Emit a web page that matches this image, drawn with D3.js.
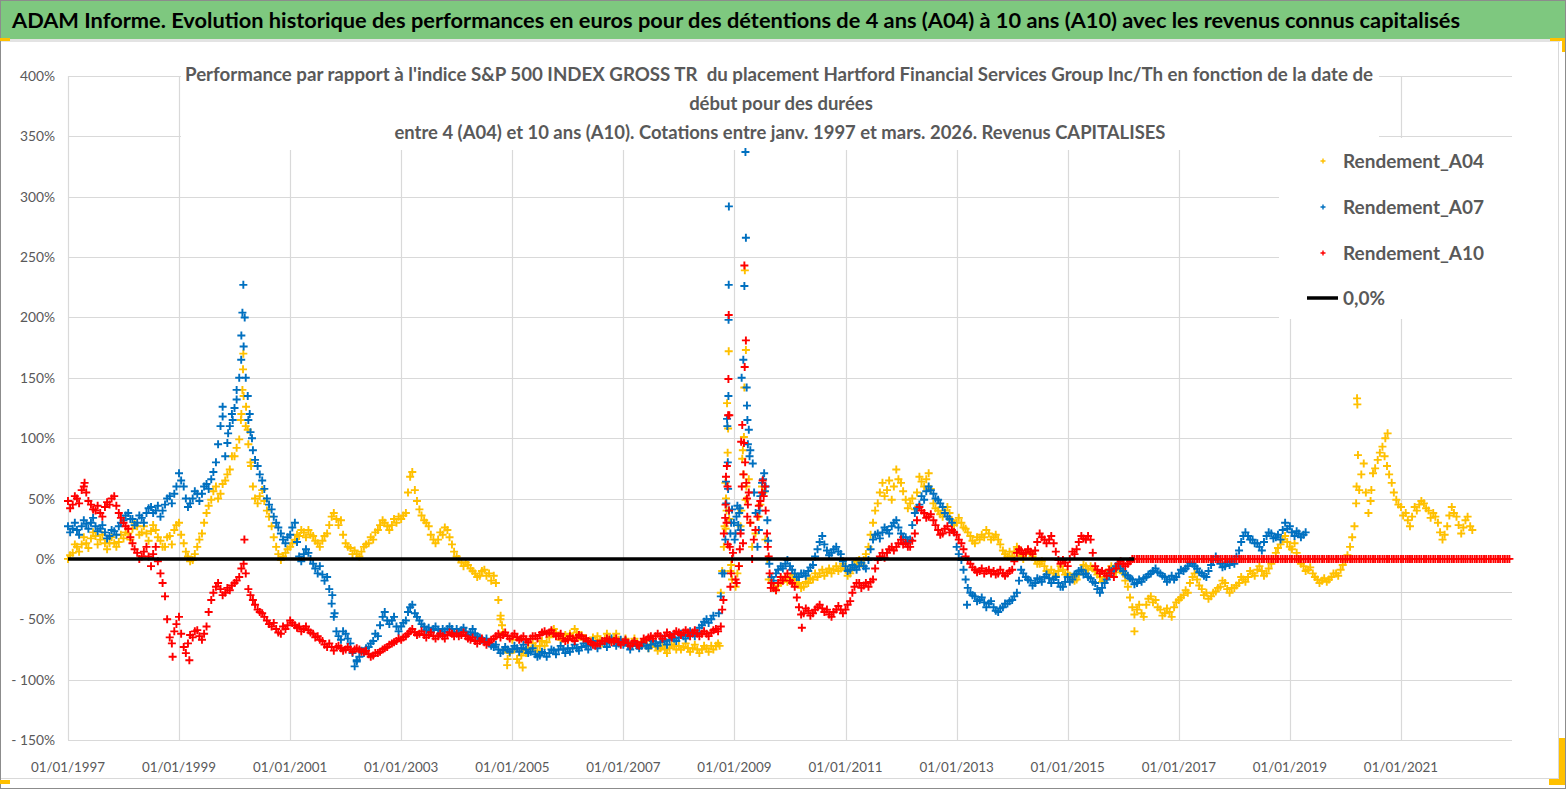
<!DOCTYPE html>
<html><head><meta charset="utf-8">
<script src="https://cdn.jsdelivr.net/npm/d3@7"></script>
<style>
html,body{margin:0;padding:0;background:#fff;}
svg{display:block;font-family:Lato,"Noto Sans",sans-serif;}
text{white-space:pre;}
</style></head><body>
<svg id="chart" width="1567" height="790"></svg>
<script>
// ---------------- DATA ----------------
const mainTitle = "ADAM Informe. Evolution historique des performances en euros pour des détentions de 4 ans (A04) à 10 ans (A10) avec les revenus connus capitalisés";
const chartTitle = [
  "Performance par rapport à l'indice S&P 500 INDEX GROSS TR  du placement Hartford Financial Services Group Inc/Th en fonction de la date de",
  "début pour des durées",
  "entre 4 (A04) et 10 ans (A10). Cotations entre janv. 1997 et mars. 2026. Revenus CAPITALISES"
];
const seriesNames = ["Rendement_A04", "Rendement_A07", "Rendement_A10", "0,0%"];
const yTicks = [-150, -100, -50, 0, 50, 100, 150, 200, 250, 300, 350, 400];
const xTickYears = [1997, 1999, 2001, 2003, 2005, 2007, 2009, 2011, 2013, 2015, 2017, 2019, 2021];
const xDomain = ["1997-01-01", "2023-01-01"];
const refLineValue = -27.3;
const zeroLineDates = ["1997-01-01", "2016-03-14"];
const zeroLineValues = [0, 0];

// values on the 1st of each month, starting January 1997
const a04Values = [
  0,5,10,12,13,17,19,16,13,13,13,14,
  17,21,25,27,22,21,23,24,15,10,19,24,
  30,13,2,-1,10,21,38,49,60,54,65,74,
  85,99,135,95,60,46,57,40,27,10,-1,5,
  10,16,19,22,24,19,13,15,21,35,33,32,
  13,9,7,2,10,13,16,24,32,27,28,30,
  33,38,68,57,41,32,27,16,16,20,24,12,
  2,-3,-3,-8,-12,-14,-9,-12,-14,-34,-61,-83,
  -67,-83,-80,-78,-75,-72,-72,-72,-65,-58,-64,-66,
  -67,-64,-61,-63,-66,-69,-68,-67,-66,-65,-65,-67,
  -69,-69,-69,-69,-70,-71,-72,-73,-74,-75,-74,-72,
  -72,-73,-74,-74,-75,-75,-74,-72,-72,null,null,null,
  null,null,null,null,null,null,null,null,-20,-26,-20,-15,
  -16,-17,-20,-23,-20,-17,-15,-9,-11,-12,-6,-8,
  -9,-12,-5,-1,-1,10,30,46,63,57,49,74,
  63,49,46,41,68,60,71,46,40,35,43,32,
  30,30,25,19,13,16,18,21,18,16,7,2,
  2,10,2,4,5,-1,-4,-6,-12,-12,-10,-9,
  -12,-15,-17,-10,-6,-6,-10,-15,-17,-9,-8,-6,
  -12,-23,-40,-42,-45,-38,-31,-34,-42,-45,-44,-40,
  -34,-30,-28,-15,-17,-25,-28,-31,-27,-23,-20,-28,
  -24,-20,-17,-15,-12,-9,-10,-12,-4,5,12,19,
  10,13,-1,-6,-9,-12,-17,-18,-19,-15,-12,-9,
  -1,10,27,57,79,38,71,82,93,77,63,49,
  43,38,27,43,45,46,40,38,30,16,27,43,
  35,21,32,27
];
// values on the 15th of each month, starting January 1997
const a04Mid = [
  3,12,6,18,9,22,12,20,8,18,10,20,
  22,16,30,20,27,15,28,18,10,18,12,28,
  20,6,-2,4,16,30,44,56,50,62,70,85,
  92,120,110,80,50,52,48,35,18,4,2,8,
  13,20,24,18,20,15,10,19,28,38,28,20,
  10,4,4,6,12,18,22,28,30,24,33,35,
  36,55,72,48,36,30,20,13,22,26,18,6,
  0,-6,-5,-10,-15,-10,-14,-18,-20,-50,-75,-78,
  -75,-86,-76,-74,-70,-76,-68,-69,-62,-61,-67,-63,
  -62,-58,-64,-67,-70,-65,-64,-70,-62,-68,-62,-70,
  -66,-72,-66,-72,-68,-74,-70,-76,-72,-78,-71,-75,
  -75,-70,-77,-71,-78,-72,-77,-75,-70,null,null,null,
  null,null,null,null,null,null,null,null,-24,-22,-17,-19,
  -13,-21,-24,-19,-16,-12,-12,-14,-8,-9,-10,-4,
  -14,-8,-2,-4,4,20,40,55,52,65,60,66,
  56,42,50,55,64,66,58,42,37,40,38,28,
  34,26,22,15,18,20,24,16,20,12,4,6,
  6,5,0,7,2,-4,-2,-10,-9,-14,-6,-13,
  -14,-18,-13,-5,-9,-8,-13,-19,-12,-6,-11,-9,
  -18,-32,-46,-38,-48,-33,-36,-40,-47,-41,-48,-36,
  -32,-26,-20,-12,-22,-30,-33,-28,-24,-18,-25,-24,
  -22,-15,-19,-10,-14,-6,-14,-8,0,9,16,14,
  8,5,-4,-10,-7,-15,-20,-16,-17,-12,-14,-5,
  3,18,60,70,55,48,75,88,85,70,55,45,
  36,32,35,40,48,42,34,35,22,20,36,38,
  28,26,35,24
];
const a04Extra = [
  ["2000-02-12",115],["2000-02-22",140],["2000-02-26",157],["2000-02-28",170],["2000-03-17",126],["2000-03-28",107],["2000-04-19",77],
  ["2004-10-16",-47],["2004-10-25",-55],["2004-11-28",-88],["2005-03-10",-90],
  ["2008-09-25",-72],["2008-10-03",-28],["2008-10-12",-10],["2008-10-23",10],["2008-10-28",27],["2008-11-02",63],
  ["2008-11-04",25],["2008-11-06",50],["2008-11-10",40],["2008-11-13",129],["2008-11-17",88],["2008-11-20",108],
  ["2008-11-24",172],["2008-11-27",33],["2008-12-05",-10],["2008-12-10",-5],["2008-12-16",-17],
  ["2009-01-08",-23],["2009-01-20",-12],["2009-01-30",-6],["2009-02-10",27],["2009-02-15",40],["2009-02-21",83],
  ["2009-02-25",90],["2009-03-01",70],["2009-03-04",101],["2009-03-07",142],["2009-03-10",239],["2009-03-15",49],
  ["2009-03-17",173],["2009-03-20",60],["2009-04-05",66],["2009-04-15",30],["2009-04-27",10],["2009-05-19",21],
  ["2009-06-10",35],["2009-06-20",45],["2009-07-01",60],["2009-07-10",55],["2009-07-23",16],["2009-08-05",0],["2009-08-14",-17],
  ["2016-03-15",-60],
  ["2020-03-12",46],["2020-03-18",133],["2020-03-20",128],["2020-03-24",86],["2020-06-20",57],["2020-09-20",100],["2020-10-05",104]
];

const a07Values = [
  27,25,24,27,29,30,27,25,22,19,23,27,
  32,38,33,30,34,38,43,40,35,45,52,54,
  71,60,43,50,54,54,62,66,80,110,85,110,
  125,150,176,115,90,77,65,50,41,30,21,13,
  20,30,2,4,5,-4,-12,-13,-15,-37,-60,-67,
  -62,-70,-89,-81,-78,-73,-68,-64,-48,-51,-51,-56,
  -56,-51,-40,-45,-51,-56,-57,-58,-59,-58,-58,-58,
  -58,-59,-60,-61,-62,-65,-68,-70,-73,-75,-76,-75,
  -75,-74,-74,-75,-77,-79,-80,-78,-78,-76,-75,-75,
  -74,-74,-74,-73,-72,-71,-71,-71,-70,-69,-69,-70,
  -71,-72,-72,-72,-72,-72,-71,-70,-69,-68,-67,-66,
  -65,-64,-63,-62,-61,-55,-50,-50,null,null,null,null,
  null,null,null,null,null,null,null,null,-15,-12,-6,-4,
  -6,-12,-15,-12,-10,-5,8,19,7,5,10,4,
  -6,-9,-7,-6,-6,-1,16,21,22,24,27,32,
  21,18,16,38,45,49,60,54,49,43,35,30,
  10,-1,-17,-28,-31,-34,-36,-37,-40,-44,-40,-37,
  -34,-28,-9,-15,-18,-20,-17,-15,-16,-17,-20,-23,
  -15,-17,-12,-9,-12,-16,-20,-28,-20,-14,-9,-4,
  -10,-14,-17,-20,-19,-15,-12,-8,-12,-15,-17,-17,
  -12,-10,-6,-4,-8,-12,-15,-5,2,-4,-6,-5,
  -4,7,19,19,16,13,7,19,21,18,16,30,
  27,19,21,20
];
const a07Mid = [
  22,30,20,32,25,34,23,28,17,24,20,30,
  36,33,28,36,30,42,38,44,40,50,46,60,
  65,50,46,56,48,60,58,72,95,118,96,120,
  132,185,150,105,82,70,58,45,35,26,16,18,
  26,14,-2,8,0,-8,-6,-18,-25,-48,-64,-60,
  -66,-78,-84,-76,-74,-70,-62,-55,-44,-54,-48,-60,
  -53,-44,-38,-48,-54,-59,-60,-56,-62,-60,-56,-61,
  -61,-57,-63,-58,-64,-67,-66,-72,-71,-78,-73,-77,
  -72,-77,-71,-78,-74,-81,-77,-81,-75,-79,-72,-78,
  -77,-71,-76,-70,-75,-68,-74,-68,-73,-66,-72,-67,
  -68,-75,-69,-74,-70,-74,-68,-72,-66,-71,-64,-68,
  -62,-66,-60,-64,-57,-52,-53,-47,null,null,null,null,
  null,null,null,null,null,null,null,null,-18,-9,-8,-1,
  -9,-15,-12,-14,-7,2,14,12,3,8,6,-2,
  -10,-5,-9,-3,-8,8,20,17,26,21,30,26,
  18,14,28,42,52,56,57,50,46,38,33,22,
  4,-9,-24,-30,-35,-32,-40,-35,-43,-41,-37,-35,
  -31,-18,-12,-17,-22,-16,-19,-13,-20,-15,-23,-19,
  -19,-13,-10,-13,-15,-19,-25,-24,-17,-10,-6,-8,
  -13,-16,-21,-17,-16,-13,-10,-11,-14,-19,-14,-15,
  -9,-8,-3,-6,-11,-14,-10,-1,-1,-7,-3,-2,
  2,14,22,16,13,10,14,22,17,20,24,25,
  22,23,18,22
];
const a07Extra = [
  ["1999-10-15",126],["1999-11-20",104],["1999-12-20",115],["2000-01-15",140],["2000-02-14",165],["2000-02-22",204],
  ["2000-02-28",227],["2000-03-08",200],["2000-03-28",135],["2000-04-10",120],["2000-04-25",100],
  ["2001-10-05",-30],["2001-10-20",-45],["2002-03-15",-85],
  ["2008-09-20",-45],["2008-10-03",-31],["2008-10-12",-12],["2008-10-26",-12],["2008-11-02",16],["2008-11-06",64],
  ["2008-11-08",46],["2008-11-13",116],["2008-11-15",110],["2008-11-18",80],["2008-11-20",58],["2008-11-22",135],
  ["2008-11-23",198],["2008-11-24",227],["2008-11-25",292],["2008-11-26",40],["2008-12-05",21],["2008-12-10",30],
  ["2008-12-16",41],["2008-12-28",30],["2009-01-02",16],["2009-01-08",21],["2009-01-14",35],["2009-01-20",44],
  ["2009-01-26",28],["2009-02-01",38],["2009-02-05",42],["2009-02-10",24],["2009-02-17",150],["2009-02-28",165],
  ["2009-03-07",226],["2009-03-14",337],["2009-03-17",266],["2009-03-22",142],["2009-03-24",127],["2009-03-27",115],
  ["2009-03-30",95],["2009-04-05",107],["2009-04-10",85],["2009-04-15",90],["2009-05-01",79],["2009-05-10",55],
  ["2009-05-20",38],["2009-06-01",10],["2009-06-10",24],["2009-06-15",40],["2009-06-20",52],["2009-07-01",63],
  ["2009-07-08",66],["2009-07-15",71],["2009-07-20",56],["2009-07-25",60],["2009-08-05",32],["2009-08-10",15],["2009-08-18",-4],
  ["2013-03-10",-38]
];

const a10Values = [
  48,45,50,57,55,45,40,38,43,45,52,38,
  30,25,13,5,2,10,-6,10,-12,-31,-65,-60,
  -48,-73,-70,-65,-59,-67,-56,-34,-23,-25,-28,-26,
  -20,-15,-4,-25,-34,-42,-45,-51,-56,-58,-62,-58,
  -51,-55,-56,-58,-59,-62,-64,-68,-73,-73,-73,-74,
  -75,-75,-75,-75,-77,-79,-80,-78,-75,-73,-70,-68,
  -67,-64,-60,-61,-62,-63,-63,-64,-64,-64,-63,-62,
  -62,-63,-64,-67,-68,-68,-69,-69,-66,-62,-63,-64,
  -64,-65,-66,-67,-66,-64,-63,-60,-61,-62,-64,-66,
  -67,-66,-65,-64,-66,-69,-72,-70,-68,-67,-68,-69,
  -69,-70,-70,-71,-69,-67,-64,-64,-64,-64,-63,-62,
  -61,-61,-61,-61,-62,-62,-62,-61,-58,null,null,null,
  null,null,null,null,null,null,null,null,-20,-26,-15,-15,
  -18,-23,-40,-45,-43,-45,-40,-41,-42,-48,-42,-42,
  -42,-35,-23,-20,-22,-23,-17,-1,5,5,10,10,
  16,13,10,21,43,38,35,32,24,21,27,24,
  20,13,2,-4,-9,-10,-12,-9,-10,-12,-12,-12,
  -9,5,7,5,6,7,21,16,16,13,-1,-1,
  -6,6,8,19,16,16,-6,-12,-12,-9,-15,-4,
  -4,-4,0,0,0,0,0,0,0,0,0,0,
  0,0,0,0,0,0,0,0,0,0,0,0,
  0,0,0,0,0,0,0,0,0,0,0,0,
  0,0,0,0,0,0,0,0,0,0,0,0,
  0,0,0,0,0,0,0,0,0,0,0,0,
  0,0,0,0,0,0,0,0,0,0,0,0,
  0,0,0,0,0,0,0,0,0,0,0,0
];
const a10Mid = [
  42,52,46,60,48,41,44,35,47,50,44,34,
  27,18,8,0,6,2,4,-2,-20,-50,-70,-54,
  -62,-78,-63,-60,-64,-62,-44,-28,-20,-30,-24,-22,
  -18,-8,-12,-30,-38,-44,-48,-54,-53,-61,-56,-55,
  -53,-57,-60,-56,-61,-65,-67,-71,-70,-76,-72,-76,
  -73,-77,-74,-77,-76,-81,-78,-77,-74,-71,-69,-66,
  -65,-62,-58,-63,-60,-65,-61,-66,-62,-66,-61,-64,
  -64,-61,-66,-65,-70,-66,-71,-67,-64,-65,-61,-66,
  -62,-67,-64,-69,-64,-66,-61,-62,-59,-64,-62,-68,
  -64,-68,-63,-66,-68,-71,-70,-68,-66,-69,-66,-71,
  -67,-72,-68,-72,-66,-65,-66,-62,-66,-61,-65,-60,
  -63,-59,-64,-59,-64,-60,-64,-59,-60,null,null,null,
  null,null,null,null,null,null,null,null,-24,-20,-18,-12,
  -20,-32,-46,-41,-47,-42,-38,-44,-46,-44,-39,-45,
  -38,-28,-20,-24,-20,-19,-8,2,1,8,7,13,
  12,10,15,32,40,34,37,28,20,25,22,22,
  16,8,-1,-7,-11,-8,-10,-12,-13,-9,-14,-10,
  -2,8,4,8,4,14,18,13,19,6,-4,-3,
  0,4,14,17,19,5,-9,-10,-14,-12,-8,-2,
  -6,-2,0,0,0,0,0,0,0,0,0,0,
  0,0,0,0,0,0,0,0,0,0,0,0,
  0,0,0,0,0,0,0,0,0,0,0,0,
  0,0,0,0,0,0,0,0,0,0,0,0,
  0,0,0,0,0,0,0,0,0,0,0,0,
  0,0,0,0,0,0,0,0,0,0,0,0,
  0,0,0,0,0,0,0,0,0,0,0,0
];
const a10Extra = [
  ["1997-04-20",63],["1998-11-20",-81],["1999-03-10",-84],["2000-03-06",16],
  ["2008-10-03",-56],["2008-10-12",-42],["2008-10-20",-34],["2008-10-23",21],["2008-11-01",34],["2008-11-03",45],
  ["2008-11-06",68],["2008-11-10",30],["2008-11-12",77],["2008-11-16",60],["2008-11-18",12],["2008-11-20",119],
  ["2008-11-22",149],["2008-11-24",202],["2008-11-26",40],["2008-11-28",119],["2008-12-01",10],["2008-12-05",-23],
  ["2008-12-10",-12],["2008-12-16",0],["2008-12-22",5],["2009-01-08",-17],["2009-01-15",-20],["2009-01-30",-6],
  ["2009-02-05",8],["2009-02-10",21],["2009-02-14",97],["2009-02-18",60],["2009-02-21",111],["2009-02-26",13],
  ["2009-03-01",70],["2009-03-04",96],["2009-03-07",243],["2009-03-09",159],["2009-03-12",80],["2009-03-17",181],
  ["2009-03-20",63],["2009-03-24",50],["2009-03-26",35],["2009-03-30",45],["2009-04-05",55],["2009-04-15",30],
  ["2009-04-27",0],["2009-05-08",16],["2009-05-19",24],["2009-06-01",35],["2009-06-10",44],["2009-06-20",48],
  ["2009-07-01",55],["2009-07-05",65],["2009-07-12",52],["2009-07-20",60],["2009-07-25",40],["2009-08-03",21],
  ["2009-08-08",10],["2009-08-14",2],["2009-08-20",-12],["2009-08-28",-24],
  ["2010-03-20",-57]
];

const colors = ["#FFC000", "#0070C0", "#FF0000", "#000000"];

// ---------------- DRAWING ----------------
const parse = d3.timeParse("%Y-%m-%d");
const svg = d3.select("#chart");
const textGrey = "#595959", gridGrey = "#D9D9D9";

function buildSeries(values, mid, extra) {
  const pts = [];
  values.forEach((v, i) => { if (v !== null) pts.push({ date: new Date(1997, i, 1), v }); });
  mid.forEach((v, i) => { if (v !== null) pts.push({ date: new Date(1997, i, 15), v }); });
  extra.forEach(([d, v]) => pts.push({ date: parse(d), v }));
  return pts;
}
const series = [
  buildSeries(a04Values, a04Mid, a04Extra),
  buildSeries(a07Values, a07Mid, a07Extra),
  buildSeries(a10Values, a10Mid, a10Extra)
];

const x = d3.scaleTime().domain(xDomain.map(parse)).range([68, 1512]);
const y = d3.scaleLinear().domain([-150, 400]).range([740, 76]);

// frame
svg.append("rect").attr("x", 0).attr("y", 0).attr("width", 1567).attr("height", 790).attr("fill", "#fff");
svg.append("rect").attr("x", 0.5).attr("y", 0.5).attr("width", 1565).attr("height", 788).attr("fill", "none").attr("stroke", "#8c8c8c");
svg.append("rect").attr("x", 1).attr("y", 1).attr("width", 1564).attr("height", 38).attr("fill", "#7EC87F");
svg.append("rect").attr("x", 1).attr("y", 39).attr("width", 1559).attr("height", 3).attr("fill", "#E3E3E3");
svg.append("line").attr("x1", 1558.5).attr("x2", 1558.5).attr("y1", 42).attr("y2", 779).attr("stroke", "#D9D9D9");
svg.append("line").attr("x1", 1).attr("x2", 1559).attr("y1", 778.5).attr("y2", 778.5).attr("stroke", "#D9D9D9");
// orange selection corners
const orange = "#FFC000";
svg.append("rect").attr("x", 0).attr("y", 38).attr("width", 10).attr("height", 3).attr("fill", orange);
svg.append("rect").attr("x", 1550).attr("y", 38).attr("width", 15).attr("height", 3).attr("fill", orange);
svg.append("rect").attr("x", 1562).attr("y", 38).attr("width", 3).attr("height", 14).attr("fill", orange);
svg.append("rect").attr("x", 0).attr("y", 780).attr("width", 10).attr("height", 4).attr("fill", orange);
svg.append("rect").attr("x", 1559).attr("y", 738).attr("width", 6).attr("height", 47).attr("fill", orange);
svg.append("rect").attr("x", 1549).attr("y", 779).attr("width", 16).attr("height", 6).attr("fill", orange);

// banner title
svg.append("text").attr("x", 12).attr("y", 28).attr("font-size", 21).attr("font-weight", "bold")
  .attr("fill", "#000").attr("textLength", 1448).attr("lengthAdjust", "spacingAndGlyphs").text(mainTitle);

// gridlines
const g = svg.append("g");
g.selectAll("line.h").data(yTicks).join("line")
  .attr("x1", 68).attr("x2", 1512).attr("y1", d => Math.round(y(d)) + 0.5).attr("y2", d => Math.round(y(d)) + 0.5)
  .attr("stroke", gridGrey).attr("stroke-width", 1.2);
const xTicks = xTickYears.map(yr => new Date(yr, 0, 1));
g.selectAll("line.v").data(xTicks).join("line")
  .attr("x1", d => Math.round(x(d)) + 0.5).attr("x2", d => Math.round(x(d)) + 0.5).attr("y1", y(400)).attr("y2", y(-150))
  .attr("stroke", gridGrey).attr("stroke-width", 1.2);
g.append("line").attr("x1", 68).attr("x2", 1512).attr("y1", Math.round(y(refLineValue)) + 0.5).attr("y2", Math.round(y(refLineValue)) + 0.5)
  .attr("stroke", "#CFCFCF").attr("stroke-width", 1.2);

// title and legend boxes mask the grid
svg.append("rect").attr("x", 181).attr("y", 56).attr("width", 1198).attr("height", 94).attr("fill", "#fff");
svg.append("rect").attr("x", 1279).attr("y", 138).attr("width", 234).attr("height", 181).attr("fill", "#fff");

// axis labels
const fmtPct = v => v < 0 ? "- " + Math.abs(v) + "%" : v + "%";
svg.append("g").selectAll("text").data(yTicks).join("text")
  .attr("x", 55).attr("y", d => y(d) + 5).attr("text-anchor", "end").attr("font-size", 13.8).attr("fill", textGrey)
  .text(fmtPct);
const fmtDate = d3.timeFormat("%d/%m/%Y");
svg.append("g").selectAll("text").data(xTicks).join("text")
  .attr("x", d => x(d)).attr("y", 772).attr("text-anchor", "middle").attr("font-size", 13.4).attr("fill", textGrey)
  .text(fmtDate);

// series markers
const plus = "M-4,0H4M0,-4V4";
function drawSeries(pts, color) {
  svg.append("g").selectAll("path").data(pts).join("path")
    .attr("transform", d => `translate(${x(d.date)},${y(d.v)})`)
    .attr("d", plus).attr("stroke", color).attr("stroke-width", 1.9).attr("fill", "none");
}
drawSeries(series[0], colors[0]);
drawSeries(series[1], colors[1]);
drawSeries(series[2], colors[2]);

// 0,0% line
const zeroPts = zeroLineDates.map((d, i) => ({ date: parse(d), v: zeroLineValues[i] }));
svg.append("path").datum(zeroPts)
  .attr("d", d3.line().x(d => x(d.date)).y(d => y(d.v)))
  .attr("stroke", colors[3]).attr("stroke-width", 3.5).attr("fill", "none");

// chart title
const tg = svg.append("g").attr("font-size", 18.5).attr("font-weight", "bold").attr("fill", textGrey).attr("text-anchor", "middle");
tg.append("text").attr("x", 779).attr("y", 81).attr("textLength", 1188).attr("lengthAdjust", "spacingAndGlyphs").text(chartTitle[0]);
tg.append("text").attr("x", 781).attr("y", 110).text(chartTitle[1]);
tg.append("text").attr("x", 780).attr("y", 139).attr("textLength", 771).attr("lengthAdjust", "spacingAndGlyphs").text(chartTitle[2]);

// legend
const legY = [161, 207, 253, 298];
const lg = svg.append("g");
seriesNames.forEach((name, i) => {
  if (i < 3) {
    lg.append("path").attr("transform", `translate(1323,${legY[i]})`).attr("d", "M-2.5,0H2.5M0,-2.5V2.5")
      .attr("stroke", colors[i]).attr("stroke-width", 1.4);
  } else {
    lg.append("line").attr("x1", 1307).attr("x2", 1338).attr("y1", legY[i]).attr("y2", legY[i])
      .attr("stroke", colors[i]).attr("stroke-width", 3.5);
  }
  const t = lg.append("text").attr("x", 1343).attr("y", legY[i] + 7).attr("font-size", 19).attr("font-weight", "bold")
    .attr("fill", textGrey).text(name);
  if (i < 3) t.attr("textLength", 141).attr("lengthAdjust", "spacingAndGlyphs");
});
</script></body></html>
